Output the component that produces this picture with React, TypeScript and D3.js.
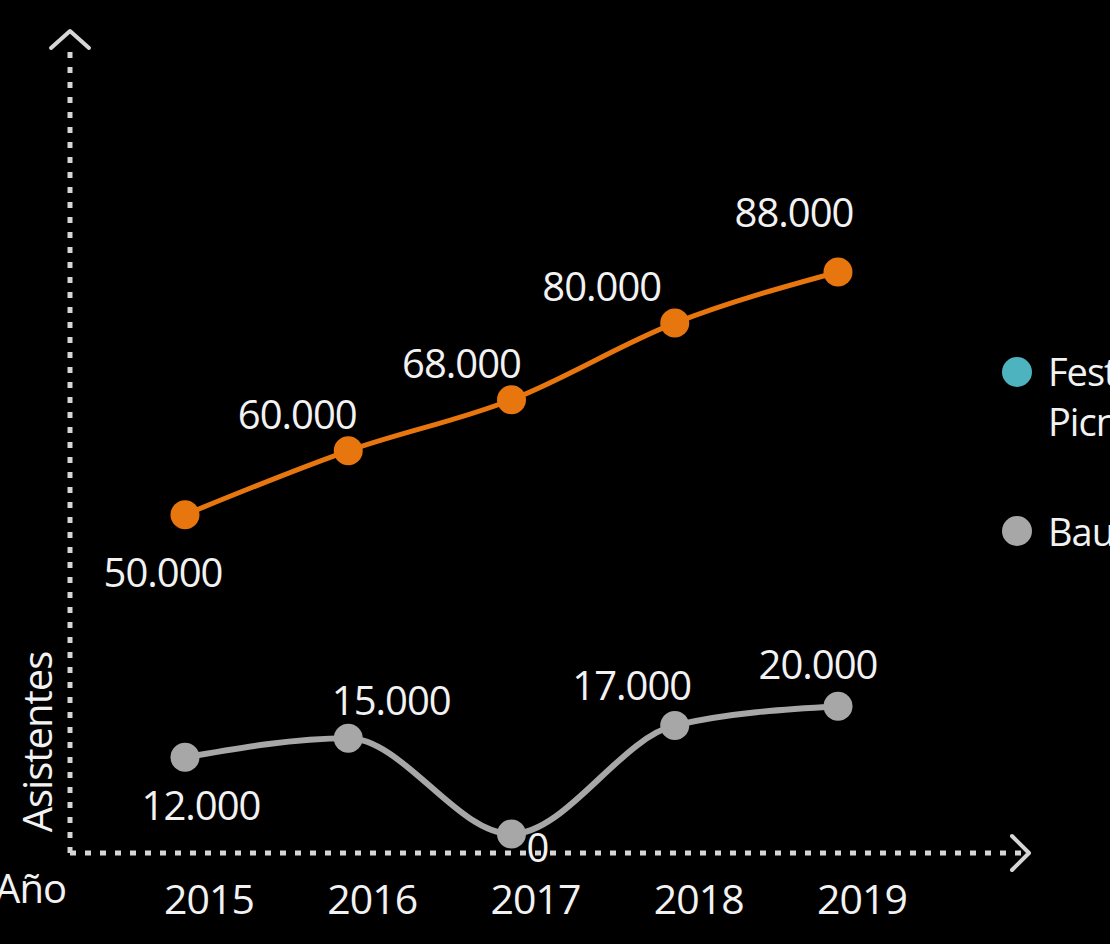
import * as d3 from "d3";
import { useEffect, useRef } from "react";

// años y asistentes por festival
const years = [2015, 2016, 2017, 2018, 2019];
const picnicValues = [50000, 60000, 68000, 80000, 88000];
const baumValues = [12000, 15000, 0, 17000, 20000];
const legendLabels = [["Festival", "Picnic"], ["Baum Festival"]];

// desplazamiento de las etiquetas respecto al punto (dx, dy)
const picnicLabelOffsets = [[-22, 58], [-51, -36], [-50, -36], [-73, -36], [-44, -59]];
const baumLabelOffsets = [[16, 49], [43, -37], [26, 14], [-43, -39], [-20, -41]];

const W = 1110;
const H = 944;
const ORANGE = "#e8760e";
const GREY = "#a7a7a7";
const TEAL = "#4db3bf";
const AXIS = "#d6d6d6";
const TEXT = "#f2f2f2";
const FONT = "'Open Sans', 'Noto Sans', sans-serif";

const fmt = (v: number) => d3.format(",")(v).replace(/,/g, ".");

export default function App() {
  const ref = useRef<SVGSVGElement | null>(null);

  useEffect(() => {
    const svg = d3.select(ref.current);
    svg.selectAll("*").remove();

    svg.append("rect").attr("width", W).attr("height", H).attr("fill", "#000");

    const x = d3.scaleLinear().domain([2015, 2019]).range([185, 838]);
    const y = d3.scaleLinear().domain([0, 88000]).range([834, 272]);

    const axisX = 70;
    const axisY = 853;

    // ejes punteados con flecha
    const axes = svg
      .append("g")
      .attr("stroke", AXIS)
      .attr("fill", "none")
      .attr("stroke-width", 5);
    axes
      .append("line")
      .attr("x1", axisX)
      .attr("x2", axisX)
      .attr("y1", axisY)
      .attr("y2", 48)
      .attr("stroke-dasharray", "6 9");
    axes
      .append("line")
      .attr("x1", axisX)
      .attr("x2", 1024)
      .attr("y1", axisY)
      .attr("y2", axisY)
      .attr("stroke-dasharray", "6 9");
    axes
      .append("path")
      .attr("stroke-width", 4)
      .attr("stroke-linecap", "round")
      .attr("stroke-linejoin", "round")
      .attr("d", `M${axisX - 19},${48} L${axisX},${31} L${axisX + 19},${48}`);
    axes
      .append("path")
      .attr("stroke-width", 4)
      .attr("stroke-linecap", "round")
      .attr("stroke-linejoin", "round")
      .attr("d", `M1012,${axisY - 17} L1029,${axisY} L1012,${axisY + 17}`);

    // títulos de ejes
    svg
      .append("text")
      .attr("transform", `translate(52,742) rotate(-90)`)
      .attr("text-anchor", "middle")
      .attr("fill", TEXT)
      .style("font-family", FONT)
      .style("font-size", "40px")
      .style("letter-spacing", "-1px")
      .text("Asistentes");
    svg
      .append("text")
      .attr("x", 66)
      .attr("y", 903)
      .attr("text-anchor", "end")
      .attr("fill", TEXT)
      .style("font-family", FONT)
      .style("font-size", "40px")
      .style("letter-spacing", "-1px")
      .text("Año");

    // etiquetas de años
    svg
      .append("g")
      .selectAll("text")
      .data(years)
      .join("text")
      .attr("x", (d) => x(d) + 24)
      .attr("y", 914)
      .attr("text-anchor", "middle")
      .attr("fill", TEXT)
      .style("font-family", FONT)
      .style("font-size", "41px")
      .style("letter-spacing", "-1px")
      .text((d) => String(d));

    const line = d3
      .line<number>()
      .x((_, i) => x(years[i]))
      .y((d) => y(d))
      .curve(d3.curveMonotoneX);

    const series = [
      { values: picnicValues, color: ORANGE, offsets: picnicLabelOffsets, width: 5 },
      { values: baumValues, color: GREY, offsets: baumLabelOffsets, width: 6 },
    ];

    series.forEach((s) => {
      svg
        .append("path")
        .datum(s.values)
        .attr("fill", "none")
        .attr("stroke", s.color)
        .attr("stroke-width", s.width)
        .attr("d", line);

      svg
        .append("g")
        .selectAll("circle")
        .data(s.values)
        .join("circle")
        .attr("cx", (_, i) => x(years[i]))
        .attr("cy", (d) => y(d))
        .attr("r", 14.5)
        .attr("fill", s.color);

      svg
        .append("g")
        .selectAll("text")
        .data(s.values)
        .join("text")
        .attr("x", (_, i) => x(years[i]) + s.offsets[i][0])
        .attr("y", (d, i) => y(d) + s.offsets[i][1] + 14)
        .attr("text-anchor", "middle")
        .attr("fill", TEXT)
        .style("font-family", FONT)
        .style("font-size", "40px")
        .style("letter-spacing", "-1px")
        .text((d) => fmt(d));
    });

    // leyenda (recortada por el borde derecho)
    const legend = svg.append("g").style("font-family", FONT).style("font-size", "38px");
    legend.append("circle").attr("cx", 1017).attr("cy", 372).attr("r", 15).attr("fill", TEAL);
    legend
      .append("text")
      .attr("x", 1048)
      .attr("y", 386)
      .attr("fill", TEXT)
      .style("letter-spacing", "-1px")
      .text(legendLabels[0][0]);
    legend
      .append("text")
      .attr("x", 1048)
      .attr("y", 436)
      .attr("fill", TEXT)
      .style("letter-spacing", "-1px")
      .text(legendLabels[0][1]);
    legend.append("circle").attr("cx", 1017).attr("cy", 531).attr("r", 15).attr("fill", GREY);
    legend
      .append("text")
      .attr("x", 1048)
      .attr("y", 546)
      .attr("fill", TEXT)
      .style("letter-spacing", "-1px")
      .text(legendLabels[1][0]);
  }, []);

  return (
    <div style={{ position: "absolute", left: 0, top: 0, width: W, height: H, overflow: "hidden" }}>
      <svg ref={ref} width={W} height={H} style={{ display: "block" }} />
    </div>
  );
}
